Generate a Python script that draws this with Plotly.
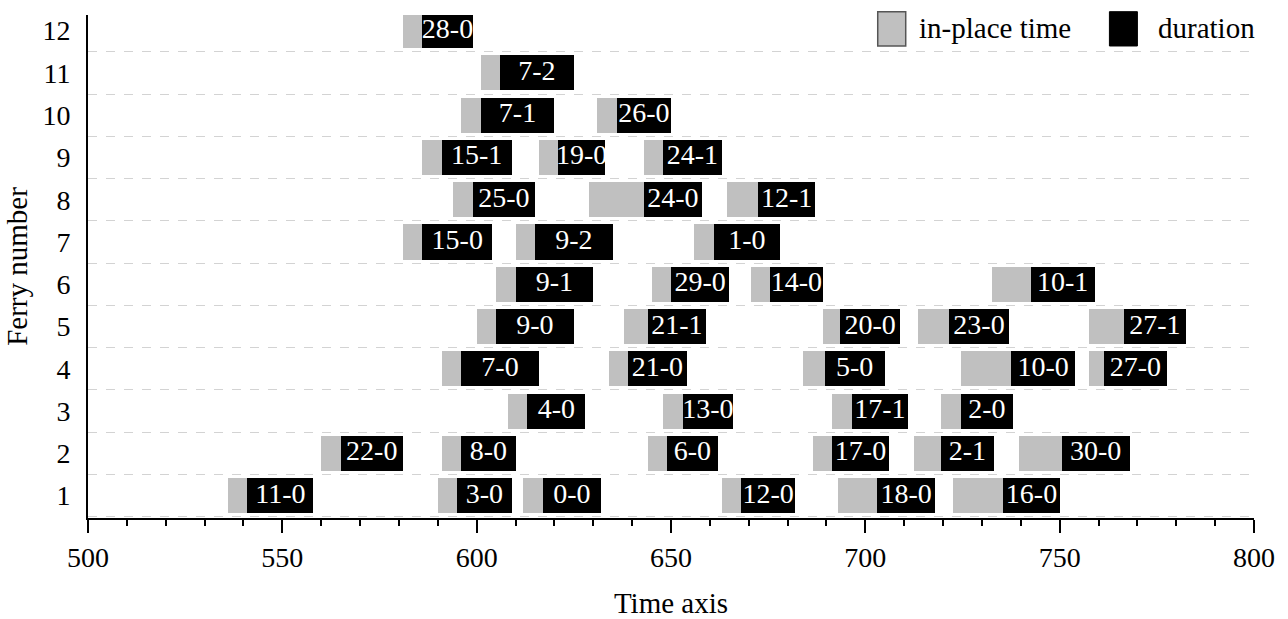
import plotly.graph_objects as go

# ---- data ----
ferry = [1, 1, 1, 1, 1, 1,
         2, 2, 2, 2, 2, 2,
         3, 3, 3, 3,
         4, 4, 4, 4, 4,
         5, 5, 5, 5, 5,
         6, 6, 6, 6,
         7, 7, 7,
         8, 8, 8,
         9, 9, 9,
         10, 10,
         11,
         12]
task = ["11-0", "3-0", "0-0", "12-0", "18-0", "16-0",
        "22-0", "8-0", "6-0", "17-0", "2-1", "30-0",
        "4-0", "13-0", "17-1", "2-0",
        "7-0", "21-0", "5-0", "10-0", "27-0",
        "9-0", "21-1", "20-0", "23-0", "27-1",
        "9-1", "29-0", "14-0", "10-1",
        "15-0", "9-2", "1-0",
        "25-0", "24-0", "12-1",
        "15-1", "19-0", "24-1",
        "7-1", "26-0",
        "7-2",
        "28-0"]
in_place = [536, 590, 612, 663, 693, 722.5,
            560, 591, 644, 686.5, 712.5, 739.5,
            608, 648, 691.5, 719.5,
            591, 634, 684, 724.5, 757.5,
            600, 638, 689, 713.5, 757.5,
            605, 645, 670.5, 732.5,
            581, 610, 656,
            594, 629, 664.5,
            586, 616, 643,
            596, 631,
            601,
            581]
start = [541, 595, 617, 668, 703, 735.5,
         565, 596, 649, 691.5, 719.5, 750.5,
         613, 653, 696.5, 724.5,
         596, 639, 689.5, 737.5, 761.5,
         605, 644, 693.5, 721.5, 766.5,
         610, 650, 675.5, 742.5,
         586, 615, 661,
         599, 643, 672.5,
         591, 621, 648,
         601, 636,
         606,
         586]
finish = [558, 609, 632, 682, 718, 750,
          581, 610, 662, 706, 733, 768,
          628, 666, 711, 738,
          616, 654, 705, 754, 777.5,
          625, 659, 709, 737, 782.5,
          630, 665, 689, 759,
          604, 635, 678,
          615, 658, 687,
          609, 633, 663,
          620, 650,
          625,
          599]
y_ticks = list(range(1, 13))
x_ticks = [500, 550, 600, 650, 700, 750, 800]
legend_names = ["in-place time", "duration"]

FONT = "Liberation Serif, Times New Roman, serif"
GRAY = "#c0c0c0"

wait_len = [s - a for a, s in zip(in_place, start)]
dur_len = [f - s for s, f in zip(start, finish)]
mid = [(s + f) / 2 for s, f in zip(start, finish)]

fig = go.Figure()
fig.add_trace(go.Bar(y=ferry, x=wait_len, base=in_place, orientation="h",
                     width=0.83, marker=dict(color=GRAY, line=dict(width=0)),
                     name=legend_names[0], showlegend=False, hoverinfo="skip"))
fig.add_trace(go.Bar(y=ferry, x=dur_len, base=start, orientation="h",
                     width=0.83, marker=dict(color="black", line=dict(width=0)),
                     name=legend_names[1], showlegend=False, hoverinfo="skip"))
fig.add_trace(go.Scatter(x=mid, y=ferry, mode="text", text=task,
                         textposition="middle center",
                         textfont=dict(family=FONT, size=28, color="white"),
                         showlegend=False, hoverinfo="skip", cliponaxis=False))

# custom legend (boxes + labels) in paper coordinates
fig.add_shape(type="rect", xref="paper", yref="paper", x0=0.6773, x1=0.7013,
              y0=0.9384, y1=1.0066, fillcolor=GRAY, line=dict(color="#555555", width=1.5))
fig.add_shape(type="rect", xref="paper", yref="paper", x0=0.876, x1=0.900,
              y0=0.9384, y1=1.0066, fillcolor="black", line=dict(color="black", width=1))
fig.add_annotation(xref="paper", yref="paper", x=0.7107, y=0.974, xanchor="left",
                   yanchor="middle", text=legend_names[0], showarrow=False,
                   font=dict(family=FONT, size=29, color="black"))
fig.add_annotation(xref="paper", yref="paper", x=0.9157, y=0.974, xanchor="left",
                   yanchor="middle", text=legend_names[1], showarrow=False,
                   font=dict(family=FONT, size=29, color="black"))

fig.update_layout(
    width=1288, height=619,
    margin=dict(l=88, r=34, t=15, b=101),
    plot_bgcolor="white", paper_bgcolor="white",
    barmode="overlay", bargap=0,
    font=dict(family=FONT, color="black"),
    xaxis=dict(range=[500, 800], tickvals=x_ticks, ticktext=[str(v) for v in x_ticks],
               showline=True, linecolor="black", linewidth=2,
               ticks="outside", ticklen=13, tickwidth=2, tickcolor="black",
               minor=dict(dtick=10, tick0=500, ticks="outside", ticklen=6,
                          tickwidth=2, tickcolor="black", showgrid=False),
               showgrid=False, zeroline=False, automargin=False,
               tickfont=dict(family=FONT, size=28),
               title=dict(text="Time axis", font=dict(family=FONT, size=29), standoff=30)),
    yaxis=dict(range=[0.47, 12.37], tickvals=y_ticks, ticktext=[str(v) for v in y_ticks],
               showline=True, linecolor="black", linewidth=2, ticks="",
               showgrid=False, zeroline=False, automargin=False,
               minor=dict(tick0=0.5, dtick=1, showgrid=True, gridcolor="#d3d3d3",
                          griddash="dash", gridwidth=1, ticks=""),
               tickfont=dict(family=FONT, size=28), ticklabelstandoff=10,
               title=dict(text="Ferry number", font=dict(family=FONT, size=29), standoff=6)),
)

fig.write_html("out.html")
